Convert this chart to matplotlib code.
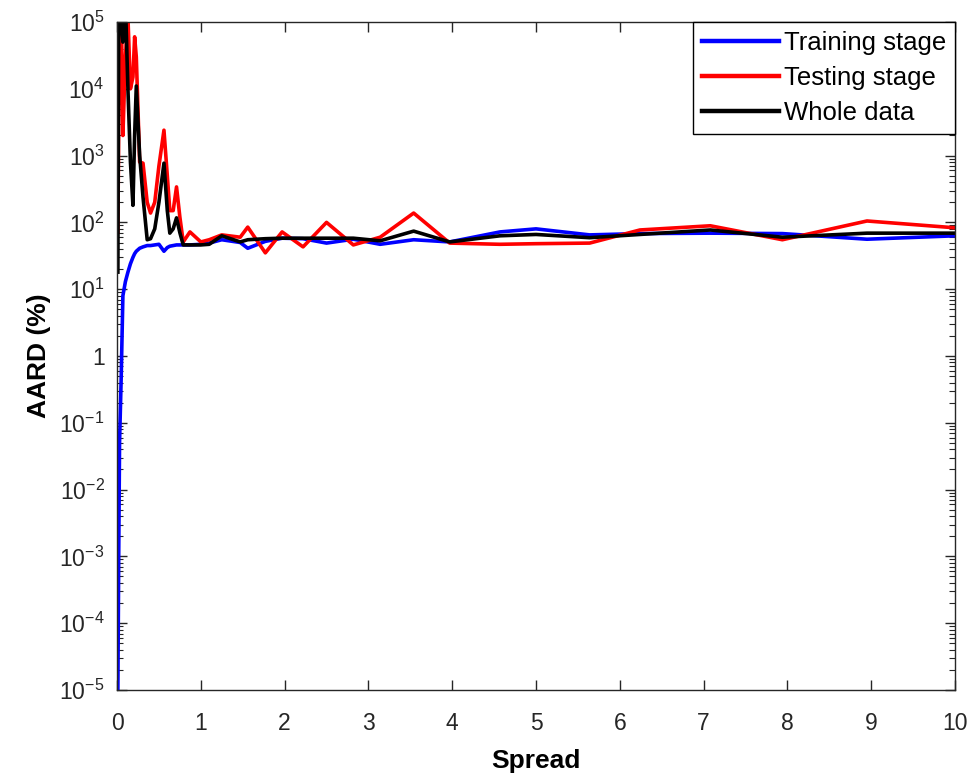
import matplotlib
matplotlib.use("Agg")
import matplotlib.pyplot as plt
from matplotlib.ticker import FixedLocator, LogLocator, NullFormatter

# ---- data ----
spread = [0.01, 0.02, 0.03, 0.05, 0.07, 0.10, 0.13, 0.16, 0.19, 0.21, 0.23, 0.27,
          0.31, 0.36, 0.40, 0.45, 0.50, 0.56, 0.60, 0.63, 0.67, 0.71, 0.75, 0.79,
          0.87, 1.00, 1.10, 1.25, 1.47, 1.56, 1.77, 1.97, 2.22, 2.50, 2.82, 3.14,
          3.54, 3.97, 4.57, 5.00, 5.64, 6.24, 7.08, 7.94, 8.95, 10.0]

training = [1e-5, 1e-3, 0.05, 0.5, 8, 13, 18, 24, 30, 34, 37, 41,
            43, 45, 45, 46, 47, 37, 42, 44, 45, 46, 46, 46,
            46, 47, 49, 55, 50, 41, 52, 58, 57, 49, 56, 47,
            55, 51, 72, 80, 65, 68, 69, 68, 56, 63]

testing = [72, 3000, 1e5, 2e5, 2000, 3e4, 1.2e5, 1e4, 1.5e4, 6e4, 3e4, 800,
           770, 200, 138, 200, 700, 2400, 500, 150, 150, 340, 120, 51,
           72, 51, 55, 65, 60, 85, 35, 72, 43, 100, 46, 60,
           138, 49, 47, 48, 49, 77, 89, 55, 105, 83]

whole = [18, 1e5, 2e5, 1e5, 5e4, 2e5, 1e4, 800, 180, 2000, 1.1e4, 1000,
         240, 55, 57, 80, 200, 770, 150, 69, 80, 117, 70, 46,
         46, 46, 47, 63, 51, 55, 57, 58, 58, 58, 58, 53,
         74, 51, 63, 66, 59, 66, 77, 60, 69, 69]

series_names = ["Training stage", "Testing stage", "Whole data"]
x_ticks = list(range(0, 11))
y_exps = list(range(-5, 6))

# ---- style ----
plt.rcParams['font.family'] = ['Liberation Sans', 'DejaVu Sans']
plt.rcParams['mathtext.fontset'] = 'custom'
plt.rcParams['mathtext.rm'] = 'Liberation Sans'
plt.rcParams['mathtext.it'] = 'Liberation Sans'

fig = plt.figure(figsize=(9.72, 7.8), dpi=100)
ax = fig.add_axes([0.1204, 0.1154, 0.8621, 0.8564])

ax.plot(spread, training, color=(0, 0, 1), lw=2.6, label=series_names[0])
ax.plot(spread, testing, color=(1, 0, 0), lw=2.6, label=series_names[1])
ax.plot(spread, whole, color='black', lw=2.6, label=series_names[2])

ax.set_yscale('log')
ax.set_xlim(0, 10)
ax.set_ylim(1e-5, 1e5)

ax.xaxis.set_major_locator(FixedLocator(x_ticks))
ax.set_xticklabels([str(t) for t in x_ticks])

yt = [10.0 ** e for e in y_exps]
ax.yaxis.set_major_locator(FixedLocator(yt))
labels = []
for e in y_exps:
    if e == 0:
        labels.append('1')
    else:
        labels.append(r'$\mathregular{10^{%d}}$' % e)
ax.set_yticklabels(labels)
ax.yaxis.set_minor_locator(LogLocator(base=10, subs=range(2, 10), numticks=100))
ax.yaxis.set_minor_formatter(NullFormatter())

ax.tick_params(axis='both', which='both', direction='in', top=True, right=True,
               labelsize=16.5, colors='#262626')
ax.tick_params(axis='x', which='major', length=7, width=1.0, pad=16)
ax.tick_params(axis='y', which='major', length=7, width=1.0, pad=9)
ax.tick_params(axis='y', which='minor', length=4, width=0.8)
for lab in ax.get_xticklabels() + ax.get_yticklabels():
    lab.set_color('#262626')

for sp in ax.spines.values():
    sp.set_color('#262626')
    sp.set_linewidth(1.0)

ax.set_xlabel('Spread', fontsize=19, fontweight='bold', labelpad=10)
ax.set_ylabel('AARD (%)', fontsize=19, fontweight='bold', labelpad=6)

leg = ax.legend(loc='upper right', borderaxespad=0.0, fancybox=False,
                edgecolor='black', framealpha=1, handlelength=3.0,
                handletextpad=0.2, labelspacing=0.42, borderpad=0.35,
                prop={'size': 18.5})
leg.get_frame().set_linewidth(1.0)
for line in leg.get_lines():
    line.set_linewidth(3.2)

fig.savefig('out.png', dpi=100)
